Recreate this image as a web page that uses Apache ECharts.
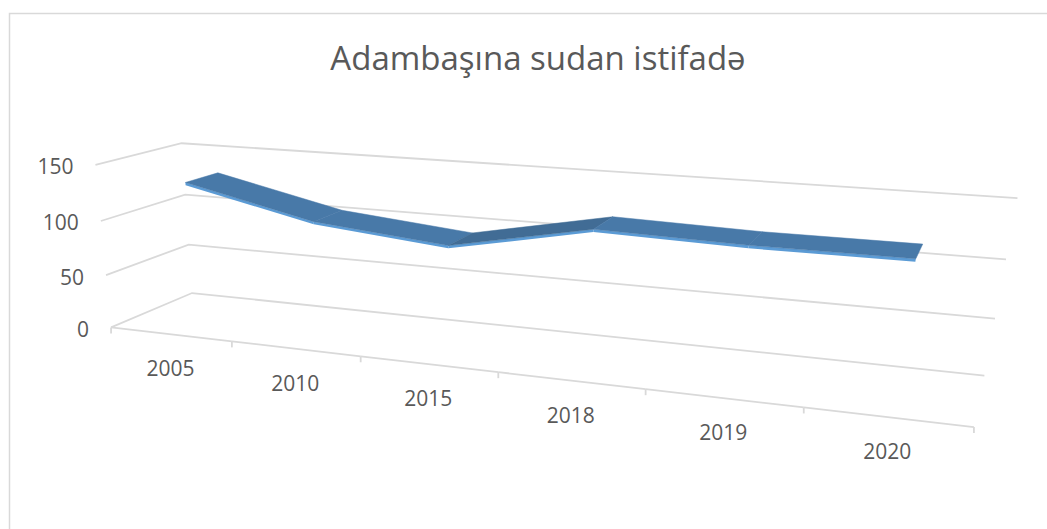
<!DOCTYPE html>
<html>
<head>
<meta charset="utf-8">
<script src="https://cdn.jsdelivr.net/npm/echarts@6/dist/echarts.min.js"></script>
<style>
  html, body { margin: 0; padding: 0; background: #fff; }
  #chart { width: 1047px; height: 529px; }
</style>
</head>
<body>
<div id="chart"></div>
<script>
// data
const categories = ['2005', '2010', '2015', '2018', '2019', '2020'];
const usage = [132, 106, 95, 119, 116, 116];
const yTicks = [0, 50, 100, 150];

// layout of the fake 3D box: [u, v, w, screenX, screenY]
// u = 0..1 along categories, v = 0..1 of value range, w = 0 front .. 1 back wall
const frameAnchors = [
  [0, 0, 0, 110.7, 326.7],
  [0, 1 / 3, 0, 105, 274.7],
  [0, 2 / 3, 0, 100.7, 220.7],
  [0, 1, 0, 96, 165],
  [0, 0, 1, 192.7, 292.7],
  [0, 1 / 3, 1, 188, 244.7],
  [0, 2 / 3, 1, 185, 195],
  [0, 1, 1, 181.7, 145],
  [1, 0, 1, 983, 376],
  [1, 2 / 3, 1, 1010, 258],
  [1, 1, 1, 1015, 197],
  [1 / 6, 0, 0, 231.7, 340.5],
  [2 / 6, 0, 0, 361.7, 356.7],
  [3 / 6, 0, 0, 500, 371.7],
  [4 / 6, 0, 0, 645.7, 389.5],
  [5 / 6, 0, 0, 802.7, 408.5],
  [1, 0, 0, 973.3, 428.5],
];
const ribbonDepth = [0.3, 0.7];
const ribbonThick = 0.016;
const gridColor = '#d9d9d9';
const textColor = '#595959';
const font = "'Open Sans', sans-serif";

// least squares fit of a 3x4 projection matrix to the anchors
function fitCamera(pts) {
  const M = Array.from({ length: 11 }, () => new Array(12).fill(0));
  const add = (row, rhs) => {
    for (let i = 0; i < 11; i++) {
      for (let j = 0; j < 11; j++) M[i][j] += row[i] * row[j];
      M[i][11] += row[i] * rhs;
    }
  };
  pts.forEach(([X, Y, Z, x, y]) => {
    x /= 1000;
    y /= 1000;
    add([X, Y, Z, 1, 0, 0, 0, 0, -x * X, -x * Y, -x * Z], x);
    add([0, 0, 0, 0, X, Y, Z, 1, -y * X, -y * Y, -y * Z], y);
  });
  for (let c = 0; c < 11; c++) {
    let p = c;
    for (let r = c + 1; r < 11; r++) if (Math.abs(M[r][c]) > Math.abs(M[p][c])) p = r;
    [M[c], M[p]] = [M[p], M[c]];
    for (let r = 0; r < 11; r++) {
      if (r === c) continue;
      const f = M[r][c] / M[c][c];
      for (let k = c; k < 12; k++) M[r][k] -= f * M[c][k];
    }
  }
  return M.map((row, i) => row[11] / row[i]);
}

const cam = fitCamera(frameAnchors);
const project = (X, Y, Z) => {
  const s = cam[8] * X + cam[9] * Y + cam[10] * Z + 1;
  return [
    (1000 * (cam[0] * X + cam[1] * Y + cam[2] * Z + cam[3])) / s,
    (1000 * (cam[4] * X + cam[5] * Y + cam[6] * Z + cam[7])) / s,
  ];
};

// pixel from the hidden grid -> unit box coords
const toUnit = (params, p) => {
  const cs = params.coordSys;
  return [(p[0] - cs.x) / cs.width, (cs.y + cs.height - p[1]) / cs.height];
};

const gridLine = (points) => ({
  type: 'polyline',
  shape: { points },
  style: { stroke: gridColor, lineWidth: 1.8, fill: null },
});

const renderWalls = (params, api) => {
  const Y = toUnit(params, api.coord([0, api.value(1)]))[1];
  const front = project(0, Y, 0);
  return {
    type: 'group',
    children: [
      gridLine([front, project(0, Y, 1), project(1, Y, 1)]),
      {
        type: 'text',
        x: front[0] - 22,
        y: front[1] + 1.5,
        style: {
          text: String(api.value(1)),
          fill: textColor,
          fontSize: 21,
          fontFamily: font,
          align: 'right',
          verticalAlign: 'middle',
        },
      },
    ],
  };
};

const renderFloor = (params, api) => {
  const idx = api.value(0);
  const c = toUnit(params, api.coord([idx, 0]));
  const half = api.size([1, 0])[0] / 2 / params.coordSys.width;
  const a = project(c[0] - half, 0, 0);
  const b = project(c[0] + half, 0, 0);
  const mid = project(c[0], 0, 0);
  const children = [
    gridLine([a, b]),
    gridLine([b, [b[0], b[1] + 6]]),
    {
      type: 'text',
      x: mid[0],
      y: mid[1] + 34,
      style: {
        text: categories[idx],
        fill: textColor,
        fontSize: 21,
        fontFamily: font,
        align: 'center',
        verticalAlign: 'middle',
      },
    },
  ];
  if (idx === 0) children.push(gridLine([a, [a[0], a[1] + 6]]));
  return { type: 'group', children };
};

const renderRibbon = (params, api) => {
  const p0 = toUnit(params, api.coord([api.value(0), api.value(1)]));
  const p1 = toUnit(params, api.coord([api.value(2), api.value(3)]));
  const [w0, w1] = ribbonDepth;
  const rising = api.value(3) > api.value(1);
  return {
    type: 'group',
    children: [
      {
        type: 'polygon',
        shape: {
          points: [
            project(p0[0], p0[1], w0),
            project(p1[0], p1[1], w0),
            project(p1[0], p1[1] - ribbonThick, w0),
            project(p0[0], p0[1] - ribbonThick, w0),
          ],
        },
        style: { fill: '#5b9bd5' },
      },
      {
        type: 'polygon',
        shape: {
          points: [
            project(p0[0], p0[1], w0),
            project(p1[0], p1[1], w0),
            project(p1[0], p1[1], w1),
            project(p0[0], p0[1], w1),
          ],
        },
        style: {
          fill: rising ? '#416c95' : '#4879a8',
          stroke: rising ? '#416c95' : '#4879a8',
          lineWidth: 0.5,
        },
      },
    ],
  };
};

const segments = usage.slice(1).map((v, i) => [i, usage[i], i + 1, v]);

const chart = echarts.init(document.getElementById('chart'), null, { renderer: 'svg' });
chart.setOption({
  animation: false,
  backgroundColor: '#fff',
  title: {
    text: 'Adambaşına sudan istifadə',
    left: 538,
    top: 41,
    padding: 0,
    textAlign: 'center',
    textStyle: { color: textColor, fontSize: 33, fontWeight: 'normal', fontFamily: font },
  },
  graphic: [
    {
      type: 'rect',
      shape: { x: 9.5, y: 13.5, width: 1200, height: 700 },
      style: { fill: 'none', stroke: gridColor, lineWidth: 1.5 },
      silent: true,
    },
  ],
  grid: { left: 0, right: 0, top: 0, bottom: 0, show: false },
  xAxis: { type: 'category', data: categories, show: false },
  yAxis: { type: 'value', min: 0, max: 150, interval: 50, show: false },
  series: [
    {
      type: 'custom',
      name: 'walls',
      silent: true,
      data: yTicks.map((v) => [0, v]),
      encode: { x: 0, y: 1 },
      renderItem: renderWalls,
    },
    {
      type: 'custom',
      name: 'floor',
      silent: true,
      data: categories.map((c) => [c, 0]),
      encode: { x: 0, y: 1 },
      renderItem: renderFloor,
    },
    {
      type: 'custom',
      name: 'Adambaşına sudan istifadə',
      silent: true,
      data: segments,
      encode: { x: [0, 2], y: [1, 3] },
      renderItem: renderRibbon,
    },
  ],
});
</script>
</body>
</html>
